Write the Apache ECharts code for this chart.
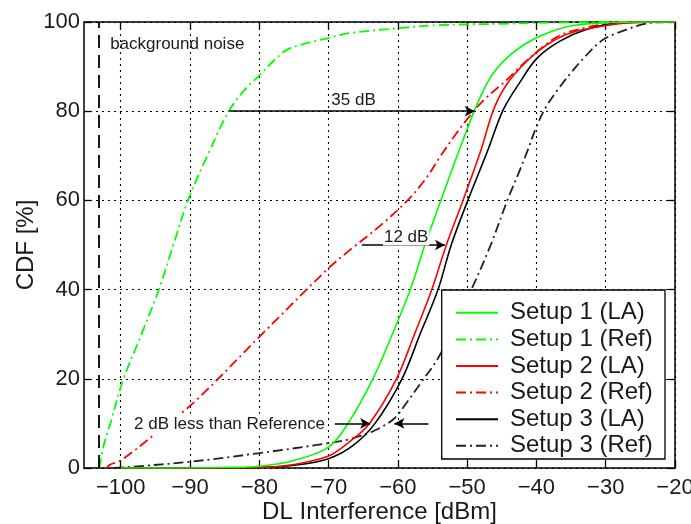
<!DOCTYPE html>
<html>
<head>
<meta charset="utf-8">
<script src="https://cdn.jsdelivr.net/npm/echarts@6/dist/echarts.min.js"></script>
<style>
html, body { margin: 0; padding: 0; background: #fff; }
#chart { width: 691px; height: 524px; }
</style>
</head>
<body>
<div id="chart"></div>
<script>
// Axis ticks
const xTicks = [-100, -90, -80, -70, -60, -50, -40, -30, -20];
const yTicks = [0, 20, 40, 60, 80, 100];

// DL interference [dBm] vs CDF [%] for each setup
const setup1LA_x = [-100, -90, -85, -80, -75, -70, -67.2, -63.6, -60.8, -58.2, -56.1, -53.8, -51.2, -48.9, -46.7, -44.3, -41.4, -38.5, -34.7, -30.4, -25, -20];
const setup1LA_y = [0, 0, 0.1, 0.4, 1.7, 4.7, 10, 20, 30, 40, 50, 60, 71, 80.3, 87.4, 91.9, 95.3, 97.5, 99.2, 99.8, 100, 100];

const setup1Ref_x = [-103.1, -102.5, -101.5, -99.6, -97, -94.5, -92.4, -90.3, -87.5, -84.4, -82, -80, -78, -76.1, -73, -70.3, -67, -60, -54, -45, -40, -30, -20];
const setup1Ref_y = [0, 4.8, 10, 20, 30, 40, 50, 60, 70, 80, 85, 88, 91.2, 93.7, 95.3, 96.3, 97.5, 98.6, 99.3, 99.6, 99.8, 100, 100];

const setup2LA_x = [-100, -85, -80, -75, -70, -67.2, -64.1, -60.2, -57.6, -55.1, -53.0, -50.6, -48.0, -46.2, -44.3, -41.4, -38.5, -35.2, -30.8, -27, -20];
const setup2LA_y = [0, 0, 0.1, 0.8, 2.7, 5.6, 10, 20, 30, 40, 50, 60, 71.3, 80.3, 86, 91.2, 94.9, 97.5, 99, 99.8, 100];

const setup2Ref_x = [-102, -101.6, -99.9, -94.9, -89.1, -80, -70, -66.9, -62.5, -58.6, -56, -53.9, -51.8, -50.1, -47.6, -44.3, -42, -39, -36.6, -33, -30.4, -25, -20];
const setup2Ref_y = [0, 0.7, 1.8, 7.8, 15.2, 29.4, 44.8, 48.9, 54.4, 60, 64.8, 69.8, 74.5, 78, 82.5, 87, 90.5, 94.5, 97, 98.7, 99.4, 100, 100];

const setup3LA_x = [-100, -85, -80, -75, -70, -66.5, -63.3, -59.4, -56.8, -54.2, -52.3, -49.9, -47.0, -44.8, -42.3, -39.9, -36.6, -32.8, -28, -20];
const setup3LA_y = [0, 0, 0.1, 0.6, 2.1, 5, 10, 20, 30, 40, 50, 60, 71.3, 80.3, 86.7, 91.9, 95.7, 98.3, 99.8, 100];

const setup3Ref_x = [-101, -98.2, -90, -80.2, -70.3, -66.9, -63.5, -60.6, -58.8, -56.5, -54.2, -51.5, -49.1, -46.6, -44.2, -42.6, -41.2, -40, -38.6, -36.6, -34.8, -33.2, -30.4, -27, -23.6, -20];
const setup3Ref_y = [0, 0.3, 1.4, 3.3, 5.5, 6.5, 8.3, 11, 14.5, 19.5, 24.6, 33, 41, 50, 60, 66, 71.5, 76.5, 81, 85.5, 89, 91.9, 96, 98.3, 99.8, 100];

// Background noise level [dBm]
const noiseLevel = -103.1;

const FONT = '"Liberation Sans", Arial, Helvetica, sans-serif';
const TEXT = '#1a1a1a';
const GREEN = '#00ff00';
const RED = '#ff0000';
const BLACK = '#000000';
const DASH_DOT = [10, 4, 2, 4];

const zip = (xs, ys) => xs.map((x, i) => [x, ys[i]]);
const minus = v => String(v).replace('-', '\u2212');

function curve(name, xs, ys, color, dashed) {
  return {
    name: name,
    type: 'line',
    xAxisIndex: 0,
    yAxisIndex: 0,
    data: zip(xs, ys),
    symbol: 'none',
    smooth: 0.35,
    silent: true,
    lineStyle: {
      color: color,
      width: dashed ? 1.8 : 1.6,
      type: dashed ? DASH_DOT : 'solid'
    },
    itemStyle: { color: color }
  };
}

const arrowStyle = { color: BLACK, width: 1.5, type: 'solid' };

const chart = echarts.init(document.getElementById('chart'), null, { renderer: 'canvas' });

const gridLine = { show: true, lineStyle: { color: '#000', width: 1.1, type: [2, 4] } };
const frame = { show: true, onZero: false, lineStyle: { color: '#000', width: 1.5 } };
const tickIn = { show: true, inside: true, length: 7, lineStyle: { color: '#000', width: 1.3 } };

chart.setOption({
  animation: false,
  backgroundColor: '#fff',
  grid: { left: 84, right: 16, top: 22, bottom: 56, containLabel: false, outerBoundsMode: 'none' },
  xAxis: [
    {
      type: 'value', position: 'bottom', min: -105.3, max: -20,
      name: 'DL Interference [dBm]', nameLocation: 'middle', nameGap: 32, nameMoveOverlap: false,
      nameTextStyle: { fontSize: 24, color: TEXT, fontFamily: FONT },
      axisLine: frame,
      axisTick: Object.assign({ customValues: xTicks }, tickIn),
      axisLabel: { customValues: xTicks, formatter: minus, fontSize: 22, color: TEXT, fontFamily: FONT, margin: 9 },
      splitLine: gridLine
    },
    {
      type: 'value', position: 'top', min: -105.3, max: -20,
      axisLine: frame,
      axisTick: Object.assign({ customValues: xTicks }, tickIn),
      axisLabel: { show: false },
      splitLine: { show: false }
    }
  ],
  yAxis: [
    {
      type: 'value', position: 'left', min: 0, max: 100, interval: 20,
      name: 'CDF [%]', nameLocation: 'middle', nameGap: 46, nameRotate: 90, nameMoveOverlap: false,
      nameTextStyle: { fontSize: 24, color: TEXT, fontFamily: FONT },
      axisLine: frame,
      axisTick: tickIn,
      axisLabel: { fontSize: 22, color: TEXT, fontFamily: FONT, margin: 4 },
      splitLine: gridLine
    },
    {
      type: 'value', position: 'right', min: 0, max: 100, interval: 20,
      axisLine: frame,
      axisTick: tickIn,
      axisLabel: { show: false },
      splitLine: { show: false }
    }
  ],
  // white framed panel behind the legend entries
  graphic: [{
    type: 'rect', z: 5, silent: true,
    shape: { x: 441.7, y: 290, width: 223.3, height: 169 },
    style: { fill: '#fff', stroke: '#000', lineWidth: 1.3 }
  }],
  legend: {
    orient: 'vertical', z: 6,
    left: 455, top: 299.5,
    itemWidth: 42, itemHeight: 14, itemGap: 0,
    padding: 0,
    selectedMode: false,
    itemStyle: { opacity: 0 },
    textStyle: { fontSize: 24, lineHeight: 26.6, color: TEXT, fontFamily: FONT, padding: [0, 0, 0, 7] },
    data: ['Setup 1 (LA)', 'Setup 1 (Ref)', 'Setup 2 (LA)', 'Setup 2 (Ref)', 'Setup 3 (LA)', 'Setup 3 (Ref)']
  },
  series: [
    // background noise marker and its label
    {
      name: 'noise', type: 'line', data: [], xAxisIndex: 0, yAxisIndex: 0, silent: true,
      markLine: {
        silent: true, animation: false, symbol: ['none', 'none'],
        label: { show: false },
        lineStyle: { color: BLACK, width: 1.8, type: [13, 7] },
        data: [[{ coord: [noiseLevel, 0] }, { coord: [noiseLevel, 100] }]]
      },
      markPoint: {
        silent: true, animation: false, symbol: 'circle', symbolSize: 1,
        itemStyle: { color: 'transparent' },
        data: [{
          coord: [-101.6, 95.1],
          label: { show: true, position: 'right', distance: 0, formatter: 'background noise',
                   fontSize: 17, color: TEXT, fontFamily: FONT }
        }]
      }
    },
    curve('Setup 3 (Ref)', setup3Ref_x, setup3Ref_y, '#222222', true),
    curve('Setup 2 (Ref)', setup2Ref_x, setup2Ref_y, RED, true),
    curve('Setup 1 (Ref)', setup1Ref_x, setup1Ref_y, GREEN, true),
    curve('Setup 3 (LA)', setup3LA_x, setup3LA_y, BLACK, false),
    curve('Setup 2 (LA)', setup2LA_x, setup2LA_y, RED, false),
    curve('Setup 1 (LA)', setup1LA_x, setup1LA_y, GREEN, false),
    // gain arrows and their labels
    {
      name: 'gains', type: 'line', data: [], xAxisIndex: 0, yAxisIndex: 0, silent: true, z: 3,
      markLine: {
        silent: true, animation: false, symbol: ['none', 'arrow'], symbolSize: [8, 10],
        label: { show: false },
        lineStyle: arrowStyle,
        data: [
          [{ coord: [-84.3, 80] }, { coord: [-48.9, 80] }],
          [{ coord: [-65.2, 50] }, { coord: [-53.2, 50] }],
          [{ coord: [-69.1, 10] }, { coord: [-64.0, 10] }],
          [{ coord: [-55.6, 10] }, { coord: [-60.5, 10] }]
        ]
      },
      markPoint: {
        silent: true, animation: false, symbol: 'circle', symbolSize: 1,
        itemStyle: { color: 'transparent' },
        label: { show: true, position: 'inside', fontSize: 17, color: TEXT, fontFamily: FONT },
        data: [
          { coord: [-66.4, 82.4], label: { formatter: '35 dB' } },
          { coord: [-58.8, 51.8], label: { formatter: '12 dB', backgroundColor: '#fff', padding: [0, 1] } },
          { coord: [-84.3, 9.8], label: { formatter: '2 dB less than Reference', backgroundColor: '#fff', padding: [2, 3] } }
        ]
      }
    }
  ]
});
</script>
</body>
</html>
